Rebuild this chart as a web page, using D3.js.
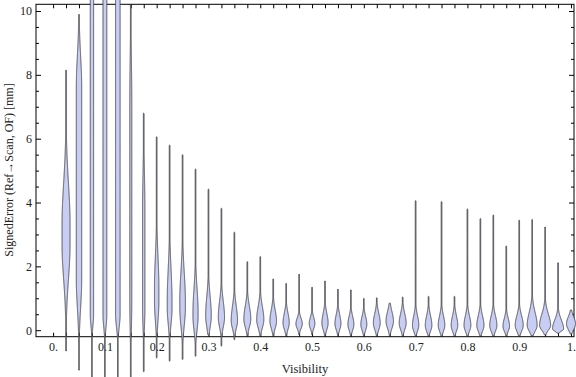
<!DOCTYPE html>
<html><head><meta charset="utf-8">
<script src="https://cdn.jsdelivr.net/npm/d3@7/dist/d3.min.js"></script>
<style>
html,body{margin:0;padding:0;background:#fff;}
svg{display:block;font-family:"Liberation Serif","Times New Roman",serif;}
</style></head>
<body>
<svg id="chart" width="576" height="377"></svg>
<script>
// ---- data ----
const visibility = [0.025,0.05,0.075,0.1,0.125,0.15,0.175,0.2,0.225,0.25,0.275,0.3,0.325,0.35,0.375,0.4,0.425,0.45,0.475,0.5,0.525,0.55,0.575,0.6,0.625,0.65,0.675,0.7,0.725,0.75,0.775,0.8,0.825,0.85,0.875,0.9,0.925,0.95,0.975,1.0];
const errMax  = [8.15,9.9,11,11,11,10.2,6.8,6.06,5.8,5.5,5.05,4.42,3.82,3.07,2.15,2.31,1.61,1.47,1.76,1.35,1.55,1.29,1.27,1.0,1.02,0.85,1.04,4.06,1.06,4.03,1.06,3.8,3.5,3.61,2.64,3.45,3.47,3.24,2.12,0.64];
const errMin  = [-0.66,-1.26,-1.6,-1.6,-1.6,-1.6,-1.3,-0.87,-0.97,-0.92,-0.82,-0.15,-0.5,-0.3,-0.18,-0.18,-0.18,-0.18,-0.15,-0.15,-0.18,-0.18,-0.18,-0.18,-0.18,-0.18,-0.18,-0.18,-0.18,-0.18,-0.18,-0.18,-0.18,-0.18,-0.18,-0.18,-0.18,-0.15,-0.1,-0.12];
const errMode = [3.0,4.6,5.5,5.5,5.5,4.0,2.2,1.1,0.8,0.8,0.5,0.45,0.4,0.3,0.35,0.33,0.28,0.23,0.2,0.2,0.22,0.2,0.18,0.18,0.22,0.28,0.22,0.15,0.15,0.15,0.15,0.15,0.15,0.15,0.12,0.15,0.15,0.15,0.04,0.2];
// relative peak density (1 = widest)
const peakDensity = [0.67,0.45,0.28,0.32,0.38,0.17,0.2,0.37,0.4,0.47,0.43,0.47,0.52,0.53,0.58,0.6,0.55,0.52,0.53,0.47,0.52,0.5,0.5,0.5,0.57,0.62,0.58,0.53,0.55,0.55,0.55,0.57,0.6,0.6,0.55,0.67,0.83,0.92,0.92,0.75];
// flat top half-length, upper and lower spread (mm)
const plateau    = [0.3,3.0,5,5,5,3,1.5,0.2,0.1,0.1,0.05,0,0,0,0,0,0,0,0,0,0,0,0,0,0,0,0,0,0,0,0,0,0,0,0,0,0,0,0,0];
const spreadUp   = [1.3,1.0,2,2,2,1.5,1.2,1.0,1.0,0.9,0.75,0.6,0.5,0.45,0.4,0.4,0.35,0.3,0.18,0.2,0.3,0.28,0.25,0.25,0.3,0.3,0.3,0.3,0.3,0.3,0.3,0.3,0.3,0.3,0.25,0.3,0.4,0.35,0.28,0.22];
const spreadDown = [1.1,0.9,0.35,0.4,0.4,1.0,0.6,0.6,0.5,0.55,0.45,0.35,0.3,0.25,0.25,0.25,0.22,0.2,0.15,0.15,0.2,0.18,0.18,0.18,0.2,0.22,0.2,0.18,0.18,0.18,0.18,0.18,0.18,0.18,0.15,0.18,0.18,0.15,0.07,0.18];
const xTickValues = d3.range(0, 41).map(i => +(i*0.025).toFixed(3));
const xTickLabels = ["0.","0.1","0.2","0.3","0.4","0.5","0.6","0.7","0.8","0.9","1."];
const yMajorTicks = [0,2,4,6,8,10];
const yMinorTicks = d3.range(0, 21).map(i => i*0.5);
const xTitle = "Visibility";
const yTitle = "SignedError (Ref\u2192Scan, OF) [mm]";

// ---- layout ----
const svg = d3.select("#chart");
const frame = {left:36, right:574, top:4.3, bottom:336.7};
const x = d3.scaleLinear().domain([0,1]).range([53.1, 571]);
const y = d3.scaleLinear().domain([0,10]).range([330.2, 11]);
const w = d3.scaleLinear().domain([0,1]).range([0,6]);

const axisColor = "#000", labelColor = "#222";

const gB = svg.append("g").attr("transform",`translate(0,${frame.bottom})`)
  .call(d3.axisBottom(x).tickValues(xTickValues).tickSizeInner(-4).tickSizeOuter(0).tickPadding(6)
    .tickFormat((d,i) => i % 4 === 0 ? xTickLabels[i/4] : ""));
const gT = svg.append("g").attr("transform",`translate(0,${frame.top})`)
  .call(d3.axisTop(x).tickValues(xTickValues).tickSizeInner(-4).tickSizeOuter(0).tickFormat(""));
const gL = svg.append("g").attr("transform",`translate(${frame.left},0)`)
  .call(d3.axisLeft(y).tickValues(yMajorTicks).tickSizeInner(-5).tickSizeOuter(0).tickPadding(4).tickFormat(d3.format("d")));
const gLm = svg.append("g").attr("transform",`translate(${frame.left},0)`)
  .call(d3.axisLeft(y).tickValues(yMinorTicks.filter(v=>v%2!==0)).tickSizeInner(-3).tickSizeOuter(0).tickFormat(""));
const gR = svg.append("g").attr("transform",`translate(${frame.right},0)`)
  .call(d3.axisRight(y).tickValues(yMajorTicks).tickSizeInner(-5).tickSizeOuter(0).tickFormat(""));
const gRm = svg.append("g").attr("transform",`translate(${frame.right},0)`)
  .call(d3.axisRight(y).tickValues(yMinorTicks.filter(v=>v%2!==0)).tickSizeInner(-3).tickSizeOuter(0).tickFormat(""));

[gB,gT,gL,gLm,gR,gRm].forEach(g => {
  g.select(".domain").remove();
  g.selectAll(".tick line").attr("stroke",axisColor).attr("stroke-width",1);
  g.selectAll(".tick text").attr("fill",labelColor).attr("font-size",12)
    .attr("font-family","Liberation Serif, Times New Roman, serif");
});

svg.append("rect").attr("x",frame.left).attr("y",frame.top)
  .attr("width",frame.right-frame.left).attr("height",frame.bottom-frame.top)
  .attr("fill","none").attr("stroke",axisColor).attr("stroke-width",1);

svg.append("text").attr("x",(frame.left+frame.right)/2).attr("y",373)
  .attr("text-anchor","middle").attr("font-size",12.5).attr("fill",labelColor).text(xTitle);
svg.append("text").attr("transform","translate(12.5,170) rotate(-90)")
  .attr("text-anchor","middle").attr("font-size",12).attr("fill",labelColor).text(yTitle);

const violins = visibility.map((v,i)=>({v, max:errMax[i], min:errMin[i], mode:errMode[i], dens:peakDensity[i],
  flat:plateau[i], su:spreadUp[i], sd:spreadDown[i]}));

function profile(d, e) {
  let dist = Math.abs(e - d.mode) - d.flat;
  if (dist < 0) dist = 0;
  const s = e >= d.mode ? d.su : d.sd;
  return d.dens * Math.exp(-0.5 * (dist/s) * (dist/s));
}
const minHalf = 0.35;
function violinPath(d) {
  const n = Math.max(60, Math.ceil((d.max - d.min)/0.01));
  const pts = d3.range(n+1).map(j => d.min + (d.max-d.min)*j/n);
  const cx = x(d.v);
  const half = (e,j) => (j===0 || j===n) ? 0 : Math.max(minHalf, w(profile(d,e)));
  const right = pts.map((e,j) => [cx + half(e,j), y(e)]);
  const left = pts.map((e,j) => [cx - half(e,j), y(e)]).reverse();
  return d3.line()(right.concat(left)) + "Z";
}

svg.append("g").selectAll("path").data(violins).join("path")
  .attr("d", violinPath)
  .attr("fill","#c8cdf4")
  .attr("stroke","#383838")
  .attr("stroke-width",0.85)
  .attr("stroke-linejoin","round");
</script>
</body></html>
